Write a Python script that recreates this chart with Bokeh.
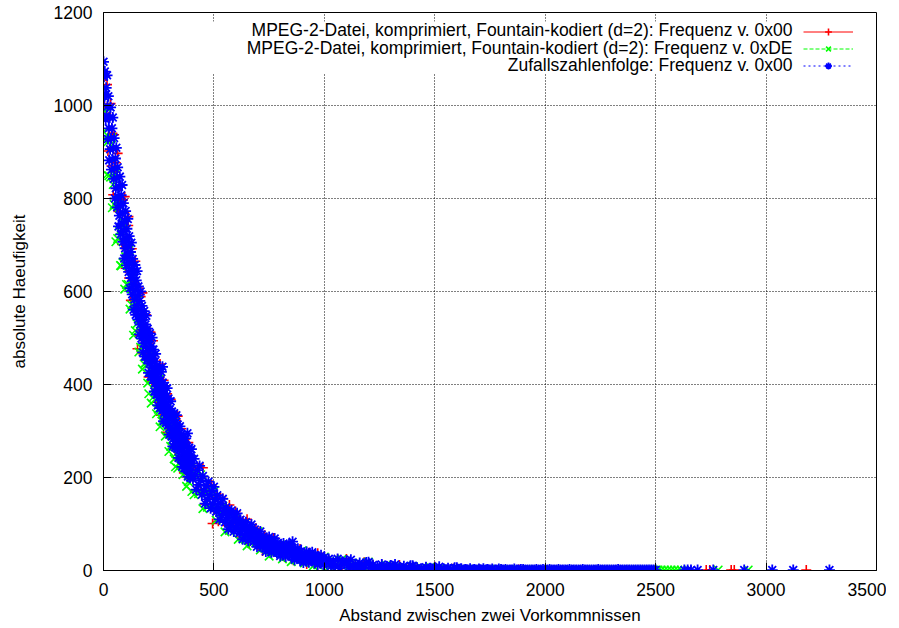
from bokeh.plotting import figure
from bokeh.models import Label, BoxAnnotation, Legend, LegendItem, FixedTicker, Range1d
from bokeh.embed import file_html
from bokeh.resources import INLINE

FONT = "Liberation Sans"

title_x = "Abstand zwischen zwei Vorkommnissen"
title_y = "absolute Haeufigkeit"
legend_labels = [
    "MPEG-2-Datei, komprimiert, Fountain-kodiert (d=2): Frequenz v. 0x00",
    "MPEG-2-Datei, komprimiert, Fountain-kodiert (d=2): Frequenz v. 0xDE",
    "Zufallszahlenfolge: Frequenz v. 0x00",
]
x_ticks = [0, 500, 1000, 1500, 2000, 2500, 3000, 3500]
y_ticks = [0, 200, 400, 600, 800, 1000, 1200]

# ---------------- series 1: MPEG-2, 0x00 (red, +) ----------------
red_x = [0, 4, 8, 12, 16, 20, 24, 28, 32, 36, 40, 44, 48, 52, 56, 60, 64, 68, 72, 76,
         80, 84, 88, 92, 96, 100, 104, 108, 112, 116, 120, 124, 128, 132, 136, 140, 144, 148, 152, 156,
         160, 164, 168, 172, 176, 180, 184, 188, 192, 196, 200, 204, 208, 212, 216, 220, 224, 228, 232, 236,
         240, 244, 248, 252, 256, 260, 264, 268, 272, 276, 280, 284, 288, 292, 296, 300, 304, 308, 312, 316,
         320, 324, 328, 332, 336, 340, 344, 348, 352, 356, 360, 364, 368, 372, 376, 380, 384, 388, 392, 396,
         400,
         410, 420, 430, 440, 450, 460, 470, 480, 490, 500, 510, 520, 530, 540, 550, 560, 570, 580, 590, 600,
         610, 620, 630, 640, 650, 660, 670, 680, 690, 700, 710, 720, 730, 740, 750, 760, 770, 780, 790, 800,
         810, 820, 830, 840, 850, 860, 870, 880, 890, 900, 910, 920, 930, 940, 950, 960, 970, 980, 990, 1000,
         1020, 1040, 1060, 1080, 1100, 1120, 1140, 1160, 1180, 1200, 1220, 1240, 1260, 1280, 1300, 1320, 1340, 1360, 1380, 1400,
         1420, 1440, 1460, 1480, 1500, 1520, 1540, 1560, 1580, 1600, 1620, 1640, 1660, 1680, 1700, 1720, 1740, 1760, 1780, 1800,
         1820, 1840, 1860, 1880, 1900, 1920, 1940, 1960, 1980, 2000, 2020, 2040, 2060, 2080, 2100, 2120, 2140, 2160, 2180, 2200,
         2220, 2240, 2260, 2280, 2300, 2320, 2340, 2360, 2380, 2400,
         113, 154, 213, 494, 540, 598, 2729, 2745, 2842, 2856, 3182]
red_y = [1070, 1000, 1063, 983, 1045, 902, 974, 933, 1004, 870, 940, 808, 937, 857, 877, 781, 897, 772, 800, 827,
         791, 701, 797, 710, 804, 650, 713, 680, 742, 629, 692, 581, 692, 625, 644, 565, 665, 560, 585, 610,
         580, 505, 589, 515, 597, 466, 522, 495, 550, 455, 510, 416, 513, 456, 473, 407, 494, 405, 428, 450,
         425, 362, 435, 373, 444, 334, 382, 361, 409, 328, 375, 297, 380, 333, 348, 292, 368, 293, 313, 333,
         313, 261, 323, 270, 332, 238, 281, 263, 305, 237, 277, 210, 282, 244, 257, 210, 275, 211, 229, 246,
         230,
         222, 173, 221, 174, 221, 143, 173, 155, 184, 130, 158, 106, 156, 125, 133, 97, 141, 95, 106, 116,
         104, 72, 106, 77, 110, 58, 80, 69, 91, 55, 75, 42, 76, 57, 63, 39, 70, 40, 48, 56,
         49, 29, 52, 33, 55, 22, 37, 31, 46, 22, 36, 14, 38, 26, 30, 15, 37, 16, 22, 28,
         22, 8, 24, 11, 25, 4, 13, 10, 18, 4, 12, 1, 13, 6, 9, 1, 12, 2, 5, 7,
         5, 1, 7, 1, 8, 1, 3, 2, 4, 1, 3, 1, 2, 1, 3, 1, 1, 2, 1, 2,
         1, 1, 1, 2, 1, 1, 1, 1, 1, 1, 1, 1, 1, 1, 1, 1, 1, 1, 1, 1,
         1, 1, 1, 1, 1, 1, 1, 1, 1, 1,
         761, 477, 512, 101, 155, 127, 1, 1, 1, 1, 1]

# ---------------- series 2: MPEG-2, 0xDE (green, x) ----------------
green_x = [0, 4, 8, 12, 16, 20, 24, 28, 32, 36, 40, 44, 48, 52, 56, 60, 64, 68, 72, 76,
           80, 84, 88, 92, 96, 100, 104, 108, 112, 116, 120, 124, 128, 132, 136, 140, 144, 148, 152, 156,
           160, 164, 168, 172, 176, 180, 184, 188, 192, 196, 200, 204, 208, 212, 216, 220, 224, 228, 232, 236,
           240, 244, 248, 252, 256, 260, 264, 268, 272, 276, 280, 284, 288, 292, 296, 300, 304, 308, 312, 316,
           320, 324, 328, 332, 336, 340, 344, 348, 352, 356, 360, 364, 368, 372, 376, 380, 384, 388, 392, 396,
           400,
           410, 420, 430, 440, 450, 460, 470, 480, 490, 500, 510, 520, 530, 540, 550, 560, 570, 580, 590, 600,
           610, 620, 630, 640, 650, 660, 670, 680, 690, 700, 710, 720, 730, 740, 750, 760, 770, 780, 790, 800,
           810, 820, 830, 840, 850, 860, 870, 880, 890, 900, 910, 920, 930, 940, 950, 960, 970, 980, 990, 1000,
           1020, 1040, 1060, 1080, 1100, 1120, 1140, 1160, 1180, 1200, 1220, 1240, 1260, 1280, 1300, 1320, 1340, 1360, 1380, 1400,
           1420, 1440, 1460, 1480, 1500, 1520, 1540, 1560, 1580, 1600, 1620, 1640, 1660, 1680, 1700, 1720, 1740, 1760, 1780, 1800,
           1820, 1840, 1860, 1880, 1900, 1920, 1940, 1960, 1980, 2000, 2020, 2040, 2060, 2080, 2100, 2120, 2140, 2160, 2180, 2200,
           2220, 2240, 2260, 2280, 2300, 2320, 2340, 2360, 2380, 2400, 2420, 2440, 2460, 2480, 2500,
           77, 205, 326, 2511, 2525, 2540, 2555, 2570, 2585, 2600, 2616, 2783, 2919]
green_y = [944, 988, 927, 996, 851, 922, 849, 926, 846, 931, 780, 830, 787, 852, 707, 796, 714, 787, 730, 785,
           655, 732, 662, 748, 605, 675, 615, 683, 615, 690, 562, 608, 571, 629, 506, 585, 516, 579, 531, 582,
           470, 539, 480, 554, 433, 493, 444, 504, 447, 512, 403, 444, 415, 465, 360, 429, 372, 426, 387, 430,
           337, 396, 347, 411, 309, 363, 321, 372, 325, 381, 289, 325, 300, 345, 256, 315, 267, 315, 282, 320,
           240, 292, 251, 305, 220, 266, 230, 276, 236, 285, 206, 237, 216, 256, 181, 232, 191, 232, 205, 237,
           170,
           163, 203, 165, 206, 133, 167, 136, 169, 135, 170, 108, 130, 112, 138, 83, 116, 86, 114, 93, 114,
           67, 95, 71, 101, 53, 77, 58, 81, 60, 84, 44, 60, 48, 67, 31, 55, 36, 55, 41, 56,
           25, 45, 30, 51, 19, 36, 23, 39, 26, 43, 16, 27, 20, 33, 10, 26, 12, 26, 17, 29,
           8, 22, 11, 24, 3, 14, 6, 16, 7, 18, 2, 8, 4, 11, 1, 7, 1, 8, 3, 9,
           1, 5, 1, 7, 1, 3, 1, 4, 2, 4, 1, 2, 1, 3, 1, 1, 2, 1, 3, 1,
           1, 2, 1, 1, 1, 2, 1, 1, 1, 1, 1, 1, 1, 1, 1, 1, 1, 1, 1, 1,
           1, 1, 1, 1, 1, 1, 1, 1, 1, 1, 1, 1, 1, 1, 1,
           656, 380, 223, 1, 1, 1, 1, 1, 1, 1, 1, 1, 1]

# ---------------- series 3: random sequence, 0x00 (blue, *) ----------------
blue_x = [0, 2, 4, 6, 8, 10, 12, 14, 16, 18, 20, 22, 24, 26, 28, 30, 32, 34, 36, 38,
          40, 42, 44, 46, 48, 50, 52, 54, 56, 58, 60, 62, 64, 66, 68, 70, 72, 74, 76, 78,
          80, 82, 84, 86, 88, 90, 92, 94, 96, 98, 100, 102, 104, 106, 108, 110, 112, 114, 116, 118,
          120, 122, 124, 126, 128, 130, 132, 134, 136, 138, 140, 142, 144, 146, 148, 150, 152, 154, 156, 158,
          160, 162, 164, 166, 168, 170, 172, 174, 176, 178, 180, 182, 184, 186, 188, 190, 192, 194, 196, 198,
          200, 202, 204, 206, 208, 210, 212, 214, 216, 218, 220, 222, 224, 226, 228, 230, 232, 234, 236, 238,
          240, 242, 244, 246, 248, 250, 252, 254, 256, 258, 260, 262, 264, 266, 268, 270, 272, 274, 276, 278,
          280, 282, 284, 286, 288, 290, 292, 294, 296, 298, 300, 302, 304, 306, 308, 310, 312, 314, 316, 318,
          320, 322, 324, 326, 328, 330, 332, 334, 336, 338, 340, 342, 344, 346, 348, 350, 352, 354, 356, 358,
          360, 362, 364, 366, 368, 370, 372, 374, 376, 378, 380, 382, 384, 386, 388, 390, 392, 394, 396, 398,
          400,
          405, 410, 415, 420, 425, 430, 435, 440, 445, 450, 455, 460, 465, 470, 475, 480, 485, 490, 495, 500,
          505, 510, 515, 520, 525, 530, 535, 540, 545, 550, 555, 560, 565, 570, 575, 580, 585, 590, 595, 600,
          605, 610, 615, 620, 625, 630, 635, 640, 645, 650, 655, 660, 665, 670, 675, 680, 685, 690, 695, 700,
          705, 710, 715, 720, 725, 730, 735, 740, 745, 750, 755, 760, 765, 770, 775, 780, 785, 790, 795, 800,
          805, 810, 815, 820, 825, 830, 835, 840, 845, 850, 855, 860, 865, 870, 875, 880, 885, 890, 895, 900,
          905, 910, 915, 920, 925, 930, 935, 940, 945, 950, 955, 960, 965, 970, 975, 980, 985, 990, 995, 1000,
          1010, 1020, 1030, 1040, 1050, 1060, 1070, 1080, 1090, 1100, 1110, 1120, 1130, 1140, 1150, 1160, 1170, 1180, 1190, 1200,
          1210, 1220, 1230, 1240, 1250, 1260, 1270, 1280, 1290, 1300, 1310, 1320, 1330, 1340, 1350, 1360, 1370, 1380, 1390, 1400,
          1410, 1420, 1430, 1440, 1450, 1460, 1470, 1480, 1490, 1500, 1510, 1520, 1530, 1540, 1550, 1560, 1570, 1580, 1590, 1600,
          1610, 1620, 1630, 1640, 1650, 1660, 1670, 1680, 1690, 1700, 1710, 1720, 1730, 1740, 1750, 1760, 1770, 1780, 1790, 1800,
          1810, 1820, 1830, 1840, 1850, 1860, 1870, 1880, 1890, 1900, 1910, 1920, 1930, 1940, 1950, 1960, 1970, 1980, 1990, 2000,
          2010, 2020, 2030, 2040, 2050, 2060, 2070, 2080, 2090, 2100, 2110, 2120, 2130, 2140, 2150, 2160, 2170, 2180, 2190, 2200,
          2210, 2220, 2230, 2240, 2250, 2260, 2270, 2280, 2290, 2300, 2310, 2320, 2330, 2340, 2350, 2360, 2370, 2380, 2390, 2400,
          2410, 2420, 2430, 2440, 2450, 2460, 2470, 2480, 2490, 2500,
          267, 380, 856, 2630, 2645, 2660, 2690, 2761, 2901, 3028, 3123, 3287]
blue_y = [1094, 1062, 1019, 1073, 1024, 970, 1038, 978, 1065, 998, 928, 1020, 951, 882, 974, 906, 996, 929, 862, 951,
          884, 974, 907, 842, 930, 864, 800, 886, 822, 909, 844, 781, 867, 803, 740, 825, 763, 847, 785, 723,
          807, 746, 829, 768, 707, 790, 730, 671, 751, 693, 773, 714, 656, 735, 678, 756, 699, 642, 719, 663,
          607, 685, 629, 705, 649, 594, 670, 616, 561, 637, 583, 657, 603, 550, 624, 570, 644, 591, 540, 611,
          560, 508, 580, 529, 600, 549, 499, 569, 518, 469, 539, 489, 558, 509, 460, 529, 481, 548, 500, 453,
          520, 472, 425, 492, 445, 510, 463, 418, 482, 437, 501, 456, 410, 475, 429, 385, 449, 403, 466, 423,
          378, 441, 397, 355, 415, 372, 434, 391, 349, 409, 367, 427, 385, 344, 404, 362, 321, 380, 339, 397,
          356, 317, 375, 334, 392, 352, 312, 370, 330, 292, 347, 308, 364, 326, 288, 342, 305, 267, 322, 284,
          338, 301, 265, 318, 281, 334, 297, 262, 314, 278, 242, 294, 259, 310, 275, 240, 292, 257, 223, 272,
          238, 288, 253, 220, 269, 236, 284, 251, 219, 267, 234, 202, 249, 217, 264, 232, 200, 247, 215, 261,
          230,
          197, 240, 206, 174, 216, 184, 225, 194, 163, 203, 172, 144, 182, 153, 191, 162, 134, 171, 143, 180,
          153, 127, 162, 135, 110, 145, 119, 154, 128, 104, 136, 113, 89, 121, 97, 129, 107, 84, 115, 93,
          123, 101, 80, 109, 88, 67, 97, 76, 104, 84, 64, 91, 73, 99, 81, 62, 88, 70, 51, 77,
          59, 84, 67, 50, 73, 57, 41, 64, 48, 72, 55, 39, 62, 46, 69, 53, 38, 59, 45, 31,
          52, 37, 58, 44, 30, 50, 37, 56, 43, 30, 49, 36, 23, 42, 29, 47, 35, 23, 41, 29,
          17, 35, 23, 40, 29, 18, 34, 23, 39, 28, 18, 33, 23, 13, 28, 18, 33, 23, 13, 28,
          16, 25, 9, 19, 11, 25, 5, 19, 14, 21, 7, 23, 9, 14, 3, 16, 11, 5, 17, 18,
          7, 12, 2, 9, 4, 13, 1, 9, 6, 11, 2, 13, 3, 7, 1, 9, 5, 1, 10, 10,
          3, 6, 1, 4, 1, 7, 1, 5, 3, 6, 1, 8, 1, 4, 1, 5, 2, 1, 6, 6,
          1, 4, 1, 2, 1, 4, 1, 2, 1, 3, 1, 4, 1, 2, 1, 3, 1, 1, 3, 2,
          1, 2, 1, 1, 1, 3, 1, 1, 2, 2, 1, 1, 1, 1, 1, 2, 1, 1, 2, 1,
          1, 2, 1, 1, 1, 2, 1, 1, 1, 1, 2, 1, 1, 1, 1, 1, 2, 1, 1, 1,
          1, 1, 1, 2, 1, 1, 1, 1, 1, 1, 1, 1, 2, 1, 1, 1, 1, 1, 1, 1,
          1, 1, 1, 1, 1, 1, 1, 1, 1, 1,
          438, 295, 62, 1, 1, 1, 1, 1, 1, 1, 1, 1]

p = figure(frame_width=773, frame_height=558,
           x_range=Range1d(0, 3500), y_range=Range1d(0, 1200),
           output_backend="svg", toolbar_location=None,
           min_border_left=103, min_border_top=12, min_border_right=10, min_border_bottom=46)
p.background_fill_color = "white"
p.border_fill_color = "white"
p.outline_line_color = "black"
p.outline_line_alpha = 1.0
p.outline_line_width = 1

for ax, ticks in ((p.xaxis[0], x_ticks), (p.yaxis[0], y_ticks)):
    ax.ticker = FixedTicker(ticks=ticks)
    ax.major_tick_in = 8
    ax.major_tick_out = 0
    ax.minor_tick_line_color = None
    ax.major_tick_line_color = "black"
    ax.axis_line_color = "black"
    ax.major_label_text_font = FONT
    ax.major_label_text_font_size = "17.5px"
    ax.major_label_text_color = "black"
    ax.axis_label_text_font = FONT
    ax.axis_label_text_font_size = "17px"
    ax.axis_label_text_font_style = "normal"
    ax.axis_label_text_color = "black"

p.xaxis.axis_label = title_x
p.yaxis.axis_label = title_y
p.xaxis.major_label_standoff = 12
p.xaxis.axis_label_standoff = 7
p.yaxis.major_label_standoff = 11
p.yaxis.axis_label_standoff = 22

p.xgrid.ticker = FixedTicker(ticks=x_ticks)
p.ygrid.ticker = FixedTicker(ticks=y_ticks)
p.grid.grid_line_color = "black"
p.grid.grid_line_alpha = 1.0
p.grid.grid_line_dash = "1 2"
p.grid.grid_line_width = 1

r_red = p.scatter(red_x, red_y, marker="cross", size=10, line_color="#ff0000", line_width=1.6)
r_green = p.scatter(green_x, green_y, marker="x", size=12, line_color="#00ff00", line_width=1.6)
r_blue = p.scatter(blue_x, blue_y, marker="asterisk", size=11, line_color="#0000ff", line_width=1.8)

nan = float("nan")
l_red = p.line([nan], [nan], line_color="#ff0000", line_width=1)
l_green = p.line([nan], [nan], line_color="#00ff00", line_width=1, line_dash="4 2")
l_blue = p.line([nan], [nan], line_color="#0000ff", line_width=1, line_dash="2 3")

# white key area (the key hides the grid under it, as in the original)
p.add_layout(BoxAnnotation(left=100, right=772, top=549, bottom=497,
                           left_units="screen", right_units="screen",
                           top_units="screen", bottom_units="screen",
                           fill_color="white", fill_alpha=1.0, line_color=None))

legend = Legend(items=[LegendItem(label=" ", renderers=[l_red, r_red]),
                       LegendItem(label=" ", renderers=[l_green, r_green]),
                       LegendItem(label=" ", renderers=[l_blue, r_blue])],
                location=(700, 496), glyph_width=50, glyph_height=17, spacing=0,
                padding=0, margin=0, label_standoff=0, label_width=0, label_height=0,
                label_text_font_size="1px", border_line_color=None,
                background_fill_alpha=0)
p.add_layout(legend, "center")

for txt, yy in zip(legend_labels, [540.3, 523, 505.7]):
    p.add_layout(Label(x=689, y=yy, x_units="screen", y_units="screen", text=txt,
                       text_align="right", text_baseline="middle", text_font=FONT,
                       text_font_size="17.5px", text_color="black"))

open("out.html", "w").write(file_html(p, INLINE))
